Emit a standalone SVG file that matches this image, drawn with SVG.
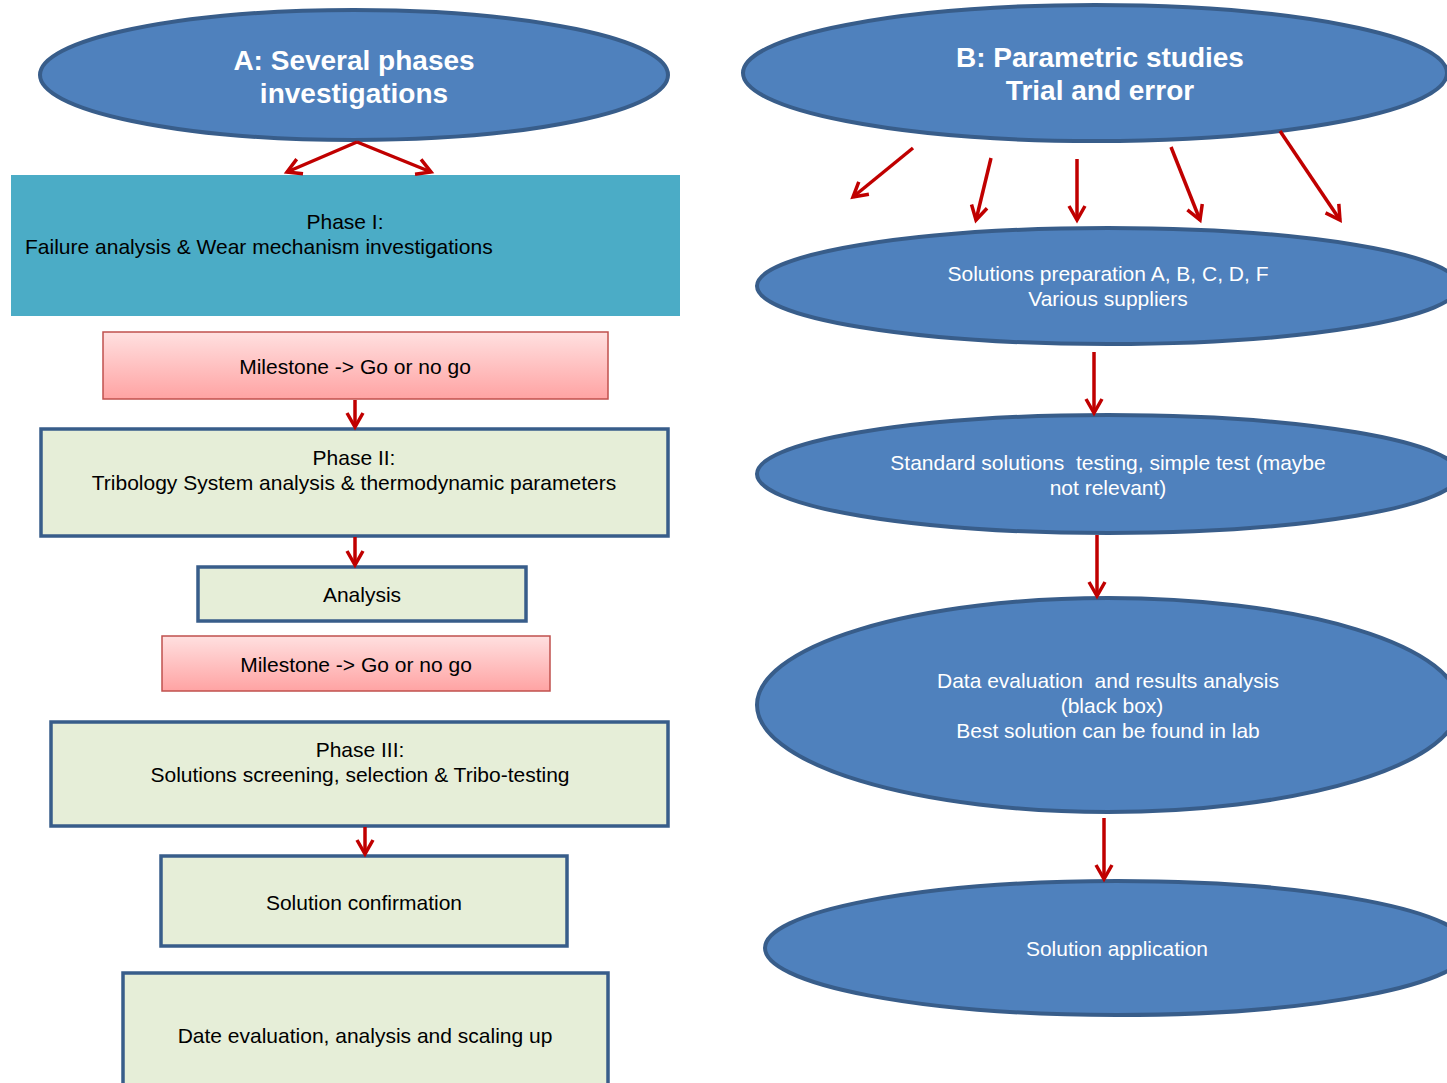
<svg xmlns="http://www.w3.org/2000/svg" width="1447" height="1083" viewBox="0 0 1447 1083">
<defs>
<linearGradient id="pink" x1="0" y1="0" x2="0" y2="1">
<stop offset="0" stop-color="#FFE0E0"/>
<stop offset="1" stop-color="#FFA3A3"/>
</linearGradient>
<marker id="ah" markerUnits="userSpaceOnUse" markerWidth="30" markerHeight="30" viewBox="-20 -15 30 30" refX="0" refY="0" orient="auto">
<path d="M-14,-8 L0,0 L-14,8" fill="none" stroke="#C00000" stroke-width="3.5" stroke-linejoin="miter"/>
</marker>
</defs>
<style>
.ell{fill:#4F81BD;stroke:#385D8A;stroke-width:4}
.box{fill:#E6EED8;stroke:#385D8A;stroke-width:3.5}
.ms{fill:url(#pink);stroke:#C0504D;stroke-width:1.5}
.t{font-family:"Liberation Sans",Arial,sans-serif;font-size:21px;fill:#000;text-anchor:middle}
.w{font-family:"Liberation Sans",Arial,sans-serif;font-size:21px;fill:#fff;text-anchor:middle}
.h{font-family:"Liberation Sans",Arial,sans-serif;font-size:28px;font-weight:bold;fill:#fff;text-anchor:middle}
.c{stroke:#C00000;stroke-width:3.5;fill:none;marker-end:url(#ah)}
</style>
<rect width="1447" height="1083" fill="#fff"/>
<g id="nodeA">
<ellipse class="ell" cx="354" cy="75" rx="314" ry="65"/>
<text class="h" x="354" y="70">A: Several phases</text>
<text class="h" x="354" y="103">investigations</text>
</g>
<g id="phase1">
<rect x="11" y="175" width="669" height="141" fill="#4BACC6"/>
<text class="t" x="345" y="229">Phase I:</text>
<text class="t" x="25" y="254" style="text-anchor:start">Failure analysis &amp; Wear mechanism investigations</text>
</g>
<g id="milestone1">
<rect class="ms" x="103" y="332" width="505" height="67"/>
<text class="t" x="355" y="374">Milestone -&gt; Go or no go</text>
</g>
<g id="phase2">
<rect class="box" x="41" y="429" width="627" height="107"/>
<text class="t" x="354" y="465">Phase II:</text>
<text class="t" x="354" y="490">Tribology System analysis &amp; thermodynamic parameters</text>
</g>
<g id="analysis">
<rect class="box" x="198" y="567" width="328" height="54"/>
<text class="t" x="362" y="602">Analysis</text>
</g>
<g id="milestone2">
<rect class="ms" x="162" y="636" width="388" height="55"/>
<text class="t" x="356" y="672">Milestone -&gt; Go or no go</text>
</g>
<g id="phase3">
<rect class="box" x="51" y="722" width="617" height="104"/>
<text class="t" x="360" y="757">Phase III:</text>
<text class="t" x="360" y="782">Solutions screening, selection &amp; Tribo-testing</text>
</g>
<g id="confirmation">
<rect class="box" x="161" y="856" width="406" height="90"/>
<text class="t" x="364" y="910">Solution confirmation</text>
</g>
<g id="dataeval">
<rect class="box" x="123" y="973" width="485" height="120"/>
<text class="t" x="365" y="1043">Date evaluation, analysis and scaling up</text>
</g>
<g id="nodeB">
<ellipse class="ell" cx="1095" cy="73" rx="352" ry="68"/>
<text class="h" x="1100" y="67">B: Parametric studies</text>
<text class="h" x="1100" y="100">Trial and error</text>
</g>
<g id="prep">
<ellipse class="ell" cx="1108" cy="286" rx="351" ry="58"/>
<text class="w" x="1108" y="281">Solutions preparation A, B, C, D, F</text>
<text class="w" x="1108" y="306">Various suppliers</text>
</g>
<g id="standard">
<ellipse class="ell" cx="1108" cy="474" rx="351" ry="59"/>
<text class="w" x="1108" y="470" xml:space="preserve">Standard solutions  testing, simple test (maybe</text>
<text class="w" x="1108" y="495">not relevant)</text>
</g>
<g id="eval">
<ellipse class="ell" cx="1108" cy="705" rx="351" ry="107"/>
<text class="w" x="1108" y="688" xml:space="preserve">Data evaluation  and results analysis</text>
<text class="w" x="1112" y="713">(black box)</text>
<text class="w" x="1108" y="738">Best solution can be found in lab</text>
</g>
<g id="application">
<ellipse class="ell" cx="1117" cy="948" rx="352" ry="67"/>
<text class="w" x="1117" y="956">Solution application</text>
</g>
<g id="connectors">
<line class="c" x1="357" y1="142" x2="287" y2="172"/>
<line class="c" x1="357" y1="142" x2="431" y2="172"/>
<line class="c" x1="355" y1="400" x2="355" y2="427"/>
<line class="c" x1="355" y1="537" x2="355" y2="565"/>
<line class="c" x1="365" y1="827" x2="365" y2="854"/>
<line class="c" x1="913" y1="148" x2="853" y2="197"/>
<line class="c" x1="991" y1="158" x2="976" y2="220"/>
<line class="c" x1="1077" y1="159" x2="1077" y2="220"/>
<line class="c" x1="1171" y1="147" x2="1200" y2="220"/>
<line class="c" x1="1280" y1="131" x2="1340" y2="220"/>
<line class="c" x1="1094" y1="352" x2="1094" y2="413"/>
<line class="c" x1="1097" y1="535" x2="1097" y2="596"/>
<line class="c" x1="1104" y1="818" x2="1104" y2="879"/>
</g>
</svg>
